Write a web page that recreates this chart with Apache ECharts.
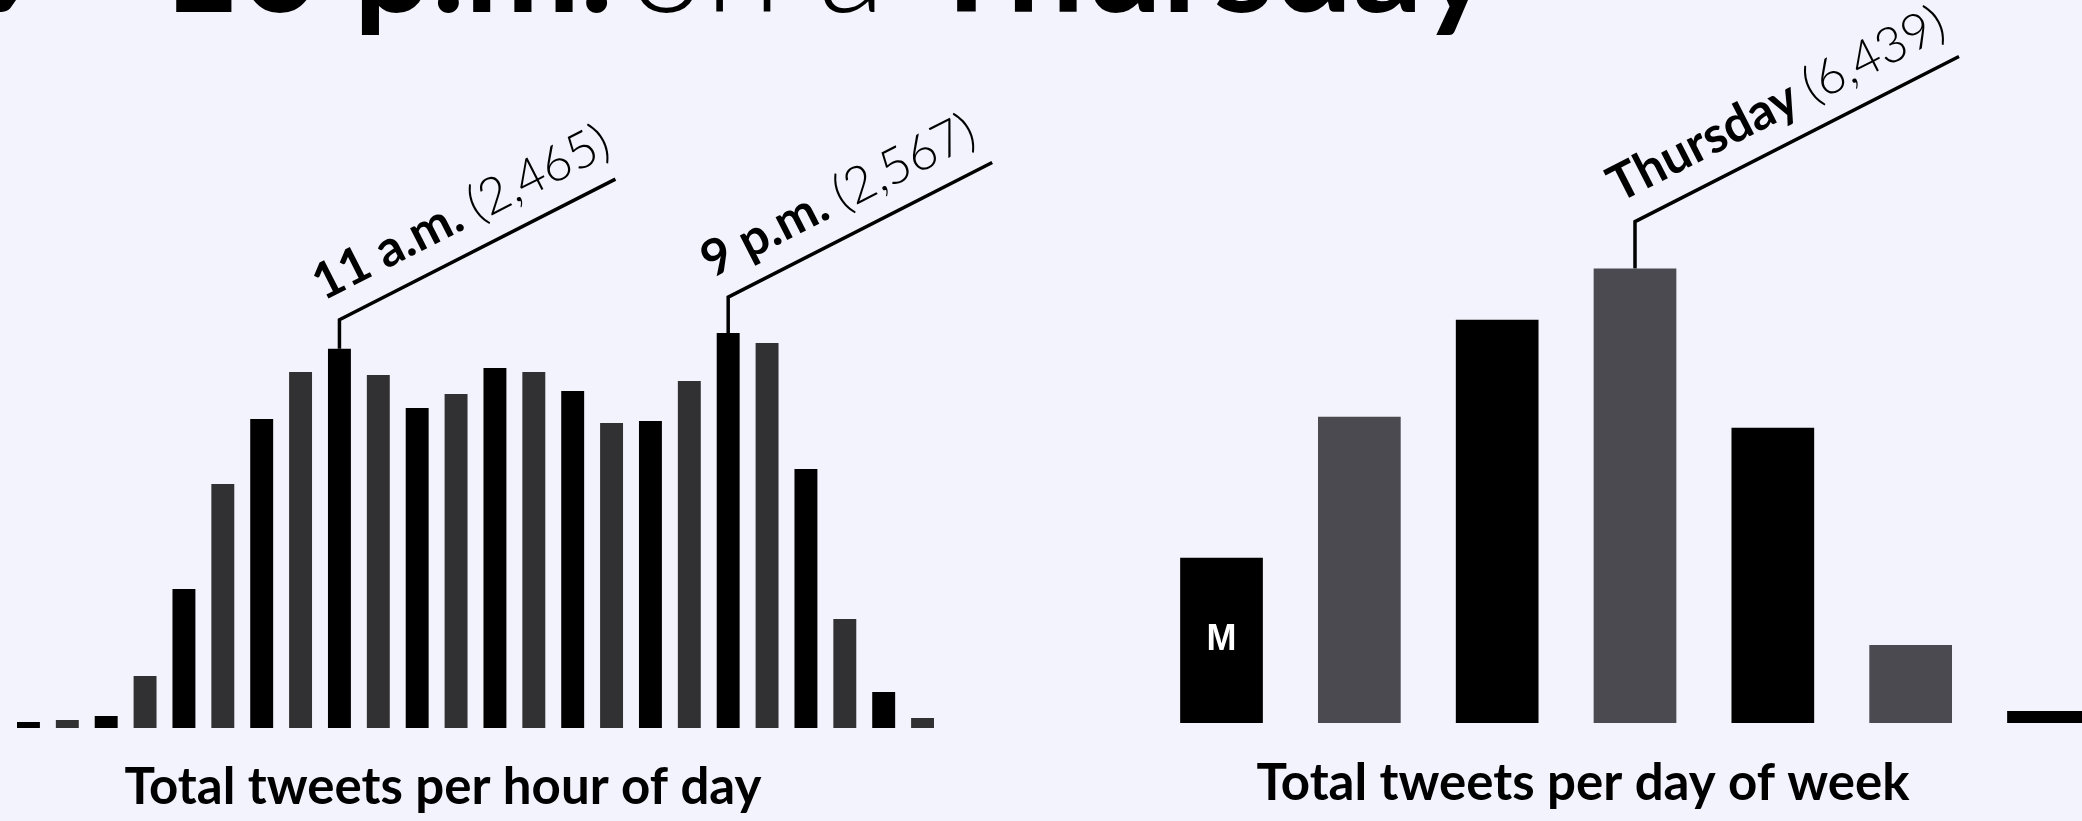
<!DOCTYPE html>
<html>
<head>
<meta charset="utf-8">
<script src="https://cdn.jsdelivr.net/npm/echarts@6/dist/echarts.min.js"></script>
<style>
  html, body { margin: 0; padding: 0; background: #f3f3fd; }
  #main { width: 2082px; height: 821px; }
</style>
</head>
<body>
<div id="main"></div>
<script>
// hours start at 3 a.m. (local time) and run round the clock
const hourLabels = ['3 a.m.', '4 a.m.', '5 a.m.', '6 a.m.', '7 a.m.', '8 a.m.', '9 a.m.', '10 a.m.',
    '11 a.m.', '12 p.m.', '1 p.m.', '2 p.m.', '3 p.m.', '4 p.m.', '5 p.m.', '6 p.m.', '7 p.m.',
    '8 p.m.', '9 p.m.', '10 p.m.', '11 p.m.', '12 a.m.', '1 a.m.', '2 a.m.'];
const hourValues = [39, 52, 78, 338, 904, 1586, 2009, 2314, 2465, 2295, 2080, 2171, 2340, 2314,
    2190, 1983, 1996, 2256, 2567, 2503, 1684, 709, 234, 65];

const dayLabels = ['Monday', 'Tuesday', 'Wednesday', 'Thursday', 'Friday', 'Saturday', 'Sunday'];
const dayShort = ['M', '', '', '', '', '', ''];
const dayValues = [2340, 4340, 5715, 6439, 4184, 1106, 170];

// call-outs: which bar, what to say
const hourNotes = [
    { index: 8, label: '11 a.m.', stem: 29, run: 276 },
    { index: 18, label: '9 p.m.', stem: 36, run: 264 }
];
const dayNotes = [
    { index: 3, label: 'Thursday', stem: 47, run: 324 }
];

const FONT = 'Lato, "Open Sans", sans-serif';
const ANGLE = 27 * Math.PI / 180;

let myChart = echarts.init(document.getElementById('main'));

function stripe(dark) {
    return function (p) {
        return p.dataIndex % 2 ? dark : '#000000';
    };
}

const option = {
    backgroundColor: '#f3f3fd',
    animation: false,
    grid: [
        { left: 9, width: 933, top: 328, height: 400, outerBoundsMode: 'none' },
        { left: 1152.6, width: 964.8, top: 229, height: 494, outerBoundsMode: 'none' }
    ],
    xAxis: [
        { type: 'category', gridIndex: 0, data: hourLabels, show: false },
        { type: 'category', gridIndex: 1, data: dayLabels, show: false }
    ],
    yAxis: [
        { type: 'value', gridIndex: 0, min: 0, max: 2600, show: false },
        { type: 'value', gridIndex: 1, min: 0, max: 7000, show: false }
    ],
    series: [
        {
            name: 'Tweets per hour',
            type: 'bar',
            xAxisIndex: 0,
            yAxisIndex: 0,
            barWidth: '59%',
            itemStyle: { color: stripe('#313133') },
            data: hourValues
        },
        {
            name: 'Tweets per day',
            type: 'bar',
            xAxisIndex: 1,
            yAxisIndex: 1,
            barWidth: '60%',
            itemStyle: { color: stripe('#4b4a50') },
            label: {
                show: true,
                position: 'inside',
                color: '#ffffff',
                fontFamily: '"Liberation Sans", Arial, sans-serif',
                fontWeight: 'bold',
                fontSize: 36,
                formatter: function (p) { return dayShort[p.dataIndex]; }
            },
            data: dayValues
        }
    ]
};
myChart.setOption(option);

// leader lines + rotated labels, placed from the bars' own pixel positions
function callouts(notes, values, gridIndex) {
    let out = [];
    const ux = Math.cos(ANGLE), uy = -Math.sin(ANGLE);
    const nx = -Math.sin(ANGLE), ny = -Math.cos(ANGLE);
    notes.forEach(function (n) {
        const v = values[n.index];
        const top = myChart.convertToPixel({ xAxisIndex: gridIndex, yAxisIndex: gridIndex }, [n.index, v]);
        const cx = top[0], cy = top[1] - n.stem;
        out.push({
            type: 'polyline',
            shape: { points: [[top[0], top[1]], [cx, cy], [cx + n.run, cy - n.run * Math.tan(ANGLE)]] },
            style: { stroke: '#000', lineWidth: 3.5, fill: null, lineJoin: 'miter' },
            silent: true
        });
        const along = -6, up = 15;
        out.push({
            type: 'text',
            x: cx + ux * along + nx * up,
            y: cy + uy * along + ny * up,
            rotation: ANGLE,
            style: {
                text: '{b|' + n.label + ' }{l|(' + v.toLocaleString('en-US') + ')}',
                align: 'left',
                verticalAlign: 'bottom',
                rich: {
                    b: { fontFamily: FONT, fontWeight: 'bold', fontSize: 50, fill: '#000' },
                    l: { fontFamily: FONT, fontWeight: 300, fontSize: 50, fill: '#000' }
                }
            },
            silent: true
        });
    });
    return out;
}

// big headline sits mostly above the canvas; only its lower edge shows
const headSize = 138;
const headY = 12 - 0.32 * headSize;
function head(text, x, align, weight) {
    return {
        type: 'text', x: x, y: headY, silent: true,
        style: {
            text: text, align: align, verticalAlign: 'middle',
            fontFamily: FONT, fontWeight: weight, fontSize: headSize, fill: '#000'
        }
    };
}
function caption(text, cx, baseY) {
    const fs = 51;
    return {
        type: 'text', x: cx, y: baseY - 0.36 * fs, silent: true,
        style: {
            text: text, align: 'center', verticalAlign: 'middle',
            fontFamily: FONT, fontWeight: 'bold', fontSize: fs, fill: '#000'
        }
    };
}

myChart.setOption({
    graphic: [
        head('9 –', 165, 'right', 'bold'),
        head('10 p.m.', 160, 'left', 'bold'),
        head('on a', 628, 'left', 300),
        head('Thursday', 925, 'left', 'bold'),
        caption('Total tweets per hour of day', 443, 806),
        caption('Total tweets per day of week', 1583, 802)
    ].concat(callouts(hourNotes, hourValues, 0), callouts(dayNotes, dayValues, 1))
});
</script>
</body>
</html>
